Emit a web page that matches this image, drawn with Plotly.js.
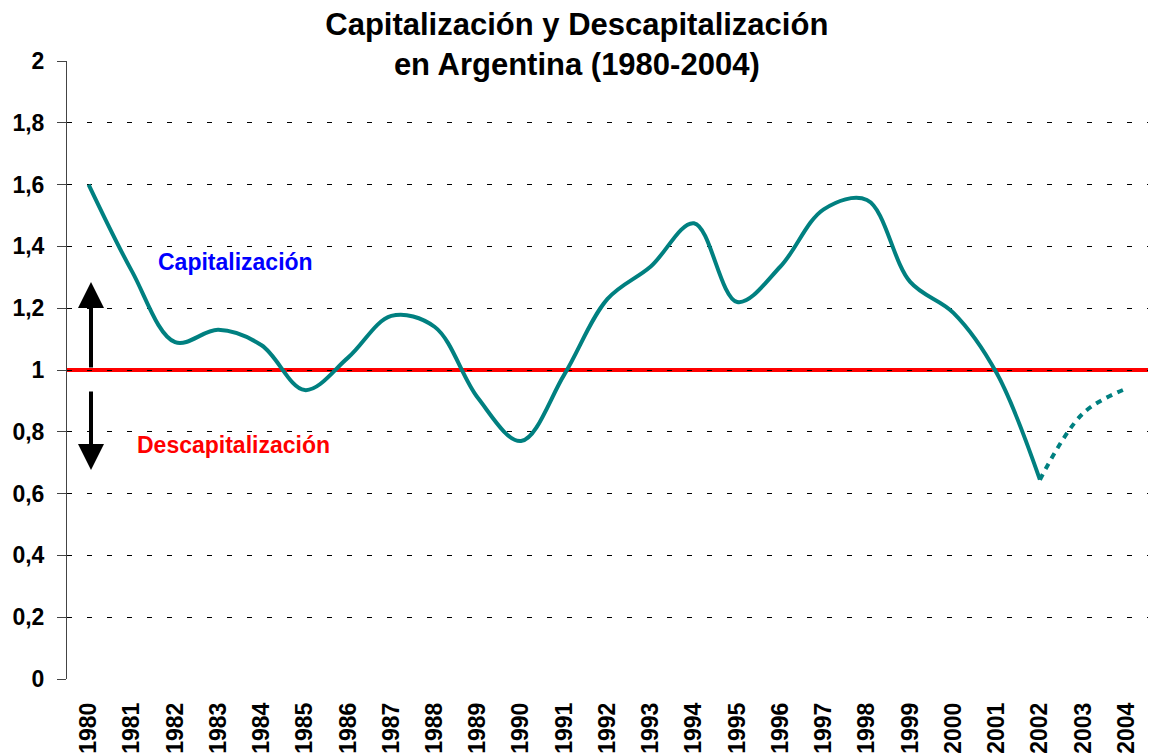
<!DOCTYPE html>
<html>
<head>
<meta charset="utf-8">
<script src="https://cdn.plot.ly/plotly-3.0.1.min.js"></script>
<style>html,body{margin:0;padding:0;background:#fff;}#chart{width:1149px;height:755px;}</style>
</head>
<body>
<div id="chart"></div>
<script>
const years = ["1980","1981","1982","1983","1984","1985","1986","1987","1988","1989","1990","1991","1992","1993","1994","1995","1996","1997","1998","1999","2000","2001","2002","2003","2004"];
const observedYears = years.slice(0, 23);
const observedValues = [1.60, 1.32, 1.09, 1.13, 1.08, 0.935, 1.04, 1.175, 1.14, 0.91, 0.77, 0.985, 1.23, 1.335, 1.475, 1.22, 1.335, 1.52, 1.55, 1.285, 1.185, 0.99, 0.645];
const projectedYears = ["2002","2003","2004"];
const projectedValues = [0.645, 0.86, 0.94];
const yTicks = [0, 0.2, 0.4, 0.6, 0.8, 1, 1.2, 1.4, 1.6, 1.8, 2];
const threshold = 1;

const FONT = "'Liberation Sans', Arial, sans-serif";
const TEAL = "#008080";

const traces = [
  {x: observedYears, y: observedValues, type: "scatter", mode: "lines",
   line: {color: TEAL, width: 4, shape: "spline", smoothing: 1}, hoverinfo: "x+y"},
  {x: projectedYears, y: projectedValues, type: "scatter", mode: "lines",
   line: {color: TEAL, width: 4, shape: "spline", smoothing: 1, dash: "6px,6px"}, hoverinfo: "x+y"}
];

const layout = {
  width: 1149, height: 755,
  margin: {l: 67, r: 1, t: 61, b: 76},
  paper_bgcolor: "#fff", plot_bgcolor: "#fff",
  separators: ",.",
  showlegend: false,
  font: {family: FONT, color: "#000"},
  title: {
    text: "Capitalización y Descapitalización<br>en Argentina (1980-2004)",
    font: {family: FONT, size: 31, weight: "bold", color: "#000"},
    x: 0.502, xanchor: "center", xref: "container",
    y: 0.954, yanchor: "top", yref: "container"
  },
  xaxis: {
    type: "category", categoryorder: "array", categoryarray: years,
    range: [-0.5, 24.5], showgrid: false, showline: false, zeroline: false,
    ticks: "", tickangle: -90, ticklabelstandoff: 18,
    tickfont: {family: FONT, size: 23, weight: "bold", color: "#000"},
    automargin: false, fixedrange: true
  },
  yaxis: {
    range: [0, 2], tickvals: yTicks, ticks: "outside", ticklen: 9, tickcolor: "#444", tickwidth: 1,
    showline: true, linecolor: "#444", linewidth: 1, zeroline: false,
    showgrid: true, gridcolor: "#000", gridwidth: 1, griddash: "5px,15px",
    ticklabelstandoff: 8,
    tickfont: {family: FONT, size: 23, weight: "bold", color: "#000"},
    automargin: false, fixedrange: true
  },
  shapes: [
    {type: "line", xref: "paper", x0: 0, x1: 1, yref: "y", y0: threshold, y1: threshold,
     line: {color: "#ff0000", width: 4}, layer: "between"}
  ],
  annotations: [
    {xref: "paper", yref: "y", x: 0.0222, y: 1.285, text: "", showarrow: true,
     axref: "pixel", ayref: "pixel", ax: 0, ay: 87, arrowhead: 2, arrowsize: 1.3, arrowwidth: 4, arrowcolor: "#000", standoff: 0},
    {xref: "paper", yref: "y", x: 0.0222, y: 0.676, text: "", showarrow: true,
     axref: "pixel", ayref: "pixel", ax: 0, ay: -80, arrowhead: 2, arrowsize: 1.3, arrowwidth: 4, arrowcolor: "#000", standoff: 0},
    {xref: "paper", yref: "y", x: (235 - 67) / 1081, y: 1.35, text: "Capitalización", showarrow: false,
     font: {family: FONT, size: 23, weight: "bold", color: "#0000ff"}, xanchor: "center", yanchor: "middle"},
    {xref: "paper", yref: "y", x: (233 - 67) / 1081, y: 0.758, text: "Descapitalización", showarrow: false,
     font: {family: FONT, size: 23, weight: "bold", color: "#ff0000"}, xanchor: "center", yanchor: "middle"}
  ]
};

Plotly.newPlot("chart", traces, layout, {displayModeBar: false, staticPlot: true});
</script>
</body>
</html>
